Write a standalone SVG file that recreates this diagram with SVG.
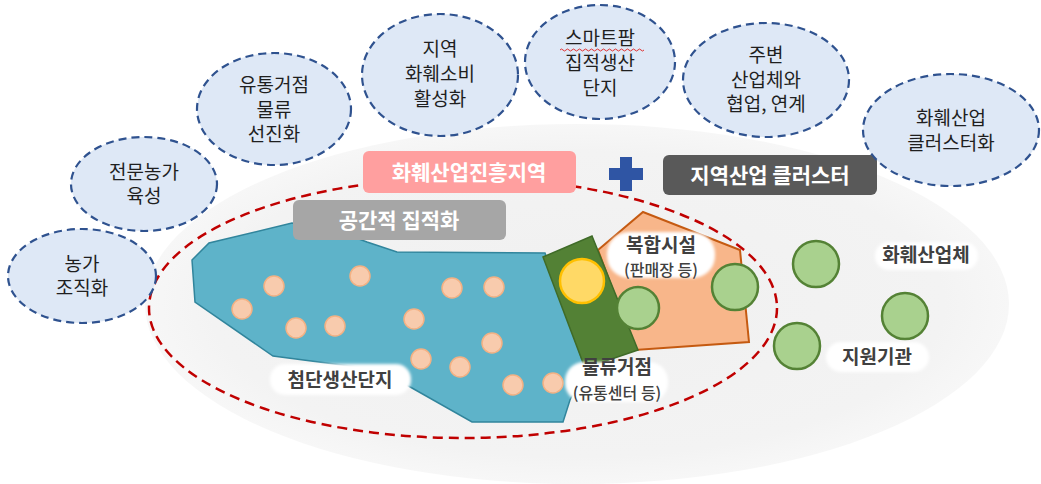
<svg xmlns="http://www.w3.org/2000/svg" width="1041" height="484" viewBox="0 0 1041 484">
<defs>
<radialGradient id="bg" cx="0.5" cy="0.5" r="0.5">
<stop offset="0" stop-color="#f0f0f0"/>
<stop offset="0.85" stop-color="#f3f3f3"/>
<stop offset="1" stop-color="#f7f7f7"/>
</radialGradient>
<filter id="soft" x="-20%" y="-40%" width="140%" height="180%"><feGaussianBlur stdDeviation="1.5"/></filter>
</defs>
<style>
text{font-family:"Noto Sans CJK KR","Noto Sans",sans-serif;text-anchor:middle}
.bub ellipse{fill:#dee8f6;stroke:#2f528f;stroke-width:2.2;stroke-dasharray:8 5}
.bub text{font-size:19px;fill:#1f1f1f}
.tag text{font-size:21px;font-weight:700;fill:#ffffff}
.lbl rect{fill:#ffffff}
.lbl text{font-size:19px;font-weight:700;fill:#404040}
.lbl .sm{font-size:16px;font-weight:500}
.dot{fill:#f8cbad;stroke:#f4b183;stroke-width:1.5}
.gc{fill:#a9d18e;stroke:#548235;stroke-width:2.5}
</style>
<rect width="1041" height="484" fill="#ffffff"/>
<g id="region-bg">
<ellipse cx="577" cy="304" rx="432" ry="180" fill="url(#bg)"/>
</g>
<g id="zone">
<ellipse cx="463" cy="308" rx="314" ry="130" fill="none" stroke="#c00000" stroke-width="2.5" stroke-dasharray="10 6"/>
</g>
<g id="complex-facility">
<polygon points="643,212 740,250 749,342 635,350 598,250" fill="#f8b68a" stroke="#c55a11" stroke-width="2"/>
</g>
<g id="production-park">
<polygon points="192,260 209,243 292,223 340,232 367,242 397,252 545,253 585,368 570,400 563,422 472,422 412,388 380,370 273,356 195,302" fill="#5eb3c9" stroke="#31859c" stroke-width="1.5"/>
<circle class="dot" cx="274" cy="286" r="10"/>
<circle class="dot" cx="242" cy="309" r="10"/>
<circle class="dot" cx="296" cy="328" r="10"/>
<circle class="dot" cx="335" cy="326" r="10"/>
<circle class="dot" cx="360" cy="276" r="10"/>
<circle class="dot" cx="452" cy="288" r="10"/>
<circle class="dot" cx="494" cy="287" r="10"/>
<circle class="dot" cx="414" cy="319" r="10"/>
<circle class="dot" cx="492" cy="343" r="10"/>
<circle class="dot" cx="421" cy="359" r="10"/>
<circle class="dot" cx="460" cy="367" r="10"/>
<circle class="dot" cx="513" cy="385" r="10"/>
<circle class="dot" cx="553" cy="383" r="10"/>
</g>
<g id="logistics-hub">
<polygon points="543,257 592,236 638,350 585,368" fill="#538135" stroke="#3f6b28" stroke-width="1.5"/>
<circle cx="582" cy="281" r="22" fill="#ffd966" stroke="#ffc000" stroke-width="2.5"/>
</g>
<g id="industry-circles">
<circle class="gc" cx="638" cy="308" r="21"/>
<circle class="gc" cx="735" cy="287" r="23"/>
<circle class="gc" cx="816" cy="264" r="23"/>
<circle class="gc" cx="797" cy="346" r="23"/>
<circle class="gc" cx="905" cy="316" r="23"/>
</g>
<g id="label-park" class="lbl">
<rect x="270" y="364" width="141" height="31" rx="15" filter="url(#soft)"/>
<text x="340" y="387">첨단생산단지</text>
</g>
<g id="label-facility" class="lbl">
<rect x="607" y="232" width="108" height="46" rx="22" filter="url(#soft)"/>
<text x="661" y="252">복합시설</text>
<text class="sm" x="661" y="276">(판매장 등)</text>
</g>
<g id="label-hub" class="lbl">
<rect x="565" y="362" width="103" height="40" rx="19" filter="url(#soft)"/>
<text x="617" y="374">물류거점</text>
<text class="sm" x="617" y="399">(유통센터 등)</text>
</g>
<g id="label-firms" class="lbl">
<rect x="875" y="242" width="103" height="28" rx="14" filter="url(#soft)"/>
<text x="926" y="262">화훼산업체</text>
</g>
<g id="label-support" class="lbl">
<rect x="826" y="342" width="103" height="30" rx="15" filter="url(#soft)"/>
<text x="877" y="364">지원기관</text>
</g>
<g id="tag-zone" class="tag">
<rect x="363" y="151" width="213" height="42" rx="6" fill="#ff9f9f"/>
<text x="469" y="180">화훼산업진흥지역</text>
</g>
<g id="plus">
<path d="M620,157 h12 v11 h11 v12 h-11 v11 h-12 v-11 h-11 v-12 h11 z" fill="#2f55a4"/>
</g>
<g id="tag-cluster" class="tag">
<rect x="663" y="155" width="214" height="40" rx="6" fill="#595959"/>
<text x="770" y="183">지역산업 클러스터</text>
</g>
<g id="tag-space" class="tag">
<rect x="293" y="200" width="213" height="40" rx="6" fill="#a6a6a6"/>
<text x="399" y="228">공간적 집적화</text>
</g>
<g id="bubble-farm-org" class="bub">
<ellipse cx="82" cy="276" rx="74" ry="47"/>
<text x="82" y="271">농가</text>
<text x="82" y="295">조직화</text>
</g>
<g id="bubble-pro-farm" class="bub">
<ellipse cx="144" cy="184" rx="73" ry="47"/>
<text x="144" y="179">전문농가</text>
<text x="144" y="203">육성</text>
</g>
<g id="bubble-logistics" class="bub">
<ellipse cx="274" cy="109" rx="77" ry="56"/>
<text x="274" y="92">유통거점</text>
<text x="274" y="117">물류</text>
<text x="274" y="141">선진화</text>
</g>
<g id="bubble-consume" class="bub">
<ellipse cx="440" cy="75" rx="78" ry="61"/>
<text x="440" y="56">지역</text>
<text x="440" y="81">화훼소비</text>
<text x="440" y="106">활성화</text>
</g>
<g id="bubble-smartfarm" class="bub">
<ellipse cx="600" cy="62" rx="75" ry="57"/>
<text x="600" y="45">스마트팜</text>
<path d="M560,50 q1.5,-2 3,0 t3,0 t3,0 t3,0 t3,0 t3,0 t3,0 t3,0 t3,0 t3,0 t3,0 t3,0 t3,0 t3,0 t3,0 t3,0 t3,0 t3,0 t3,0 t3,0 t3,0 t3,0 t3,0 t3,0 t3,0 t3,0 t3,0 t3,0" fill="none" stroke="#e03030" stroke-width="1"/>
<text x="600" y="70">집적생산</text>
<text x="600" y="95">단지</text>
</g>
<g id="bubble-partner" class="bub">
<ellipse cx="766" cy="80" rx="83" ry="57"/>
<text x="766" y="62">주변</text>
<text x="766" y="87">산업체와</text>
<text x="766" y="111">협업, 연계</text>
</g>
<g id="bubble-cluster" class="bub">
<ellipse cx="951" cy="130" rx="88" ry="56"/>
<text x="951" y="125">화훼산업</text>
<text x="951" y="150">클러스터화</text>
</g>
</svg>
